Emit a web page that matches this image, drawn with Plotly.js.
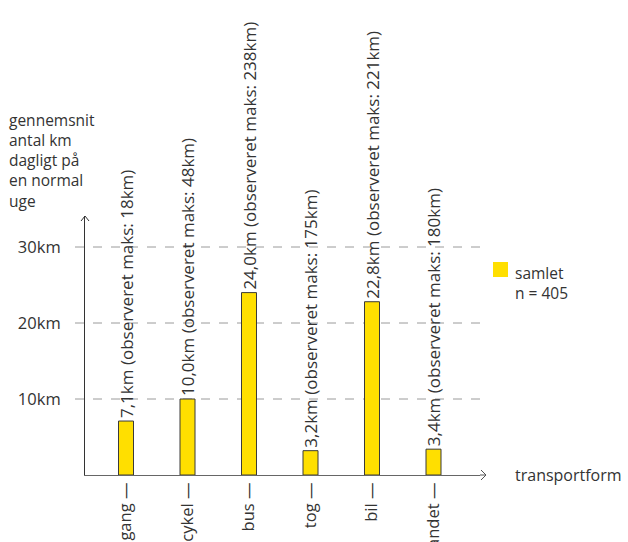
<!DOCTYPE html>
<html>
<head>
<meta charset="utf-8">
<script src="https://cdn.plot.ly/plotly-3.0.1.min.js"></script>
<style>html,body{margin:0;padding:0;background:#fff}#chart{width:628px;height:542px}</style>
</head>
<body>
<div id="chart"></div>
<script>
// ---- data ----
const categories = ["gang", "cykel", "bus", "tog", "bil", "andet"];
const averageKm = [7.1, 10.0, 24.0, 3.2, 22.8, 3.4];
const observedMaxKm = [18, 48, 238, 175, 221, 180];
const yTickValues = [10, 20, 30];
const yTickLabels = ["10km", "20km", "30km"];
const seriesName = "samlet";
const sampleSize = "n = 405";
const yTitleLines = ["gennemsnit", "antal km", "dagligt på", "en normal", "uge"];
const xTitle = "transportform";

// ---- layout geometry ----
const W = 628, H = 542;
const M = {l: 85, r: 148, t: 216, b: 67};
const PW = W - M.l - M.r, PH = H - M.t - M.b;
const pxPerUnit = 7.6;
const catSpacing = 61.5;
const firstCatPx = 126;
const px = x => (x - M.l) / PW;
const py = y => (H - M.b - y) / PH;

const FONT = "Open Sans";
const TXT = "#333333";
const YELLOW = "#FFDF00";

const fmt = v => v.toFixed(1).replace(".", ",");
const barText = averageKm.map((v, i) => fmt(v) + "km (observeret maks: " + observedMaxKm[i] + "km)");

const trace = {
  type: "bar",
  x: categories,
  y: averageKm,
  width: 15 / catSpacing,
  marker: {color: YELLOW, line: {color: "#3a3a3a", width: 1}},
  text: barText,
  textposition: "outside",
  textangle: -90,
  constraintext: "none",
  cliponaxis: false,
  textfont: {family: FONT, size: 17, color: TXT},
  name: seriesName,
  showlegend: false,
  hoverinfo: "skip"
};

const xStart = -(firstCatPx - M.l) / catSpacing;
const xEnd = xStart + PW / catSpacing;

const shapes = [];
yTickValues.forEach(v => {
  shapes.push({type: "line", xref: "paper", yref: "y", x0: px(75), x1: 1, y0: v, y1: v,
    line: {color: "#9a9a9a", width: 1, dash: "dash"}, layer: "below"});
});
// arrow heads
shapes.push({type: "path", xref: "paper", yref: "paper",
  path: `M${px(M.l + PW)},${py(H - M.b)} L${px(M.l + PW + 6)},${py(H - M.b)} M${px(M.l + PW + 1)},${py(H - M.b - 5)} L${px(M.l + PW + 6)},${py(H - M.b)} L${px(M.l + PW + 1)},${py(H - M.b + 5)}`,
  line: {color: "#555", width: 1}});
shapes.push({type: "path", xref: "paper", yref: "paper",
  path: `M${px(M.l - 4)},${py(M.t + 5)} L${px(M.l)},${py(M.t)} L${px(M.l + 4)},${py(M.t + 5)}`,
  line: {color: "#333", width: 1}});
// legend swatch
shapes.push({type: "rect", xref: "paper", yref: "paper",
  x0: px(493), x1: px(508), y0: py(277), y1: py(262),
  fillcolor: YELLOW, line: {width: 0}});

const annotations = [];
annotations.push({xref: "paper", yref: "paper", x: px(7), y: py(107),
  xanchor: "left", yanchor: "top", align: "left", showarrow: false,
  text: yTitleLines.join("<br>"),
  font: {family: FONT, size: 15.5, color: TXT}});
annotations.push({xref: "paper", yref: "paper", x: px(513), y: py(H - M.b),
  xanchor: "left", yanchor: "middle", showarrow: false, text: xTitle,
  font: {family: FONT, size: 16, color: TXT}});
annotations.push({xref: "paper", yref: "paper", x: px(513), y: py(260),
  xanchor: "left", yanchor: "top", align: "left", showarrow: false,
  text: seriesName + "<br>" + sampleSize,
  font: {family: FONT, size: 15.5, color: TXT}});

const layout = {
  width: W, height: H,
  margin: M,
  paper_bgcolor: "#fff", plot_bgcolor: "#fff",
  showlegend: false,
  font: {family: FONT, size: 16, color: TXT},
  xaxis: {
    type: "category",
    range: [xStart, xEnd],
    tickmode: "array",
    tickvals: categories,
    ticktext: categories.map(c => c + " —"),
    tickangle: -90,
    tickfont: {family: FONT, size: 16.5, color: TXT},
    showgrid: false, zeroline: false,
    showline: true, linecolor: "#666", linewidth: 1,
    ticks: "", ticklabelstandoff: 0,
    fixedrange: true
  },
  yaxis: {
    range: [0, PH / pxPerUnit],
    tickmode: "array",
    tickvals: yTickValues,
    ticktext: yTickLabels,
    tickfont: {family: FONT, size: 16.5, color: TXT},
    showgrid: false, zeroline: false,
    showline: true, linecolor: "#333", linewidth: 1,
    ticks: "", ticklabelstandoff: 20,
    fixedrange: true
  },
  shapes: shapes,
  annotations: annotations
};

Plotly.newPlot("chart", [trace], layout, {displayModeBar: false, staticPlot: true});
</script>
</body>
</html>
